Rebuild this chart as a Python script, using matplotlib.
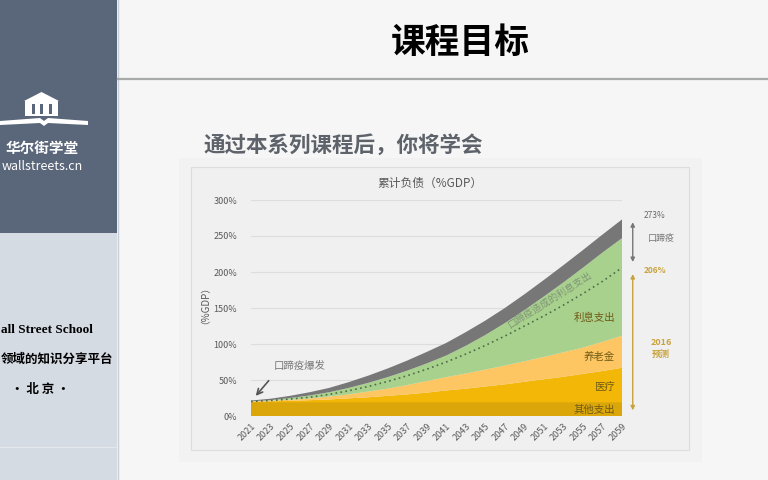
import matplotlib.pyplot as plt
import matplotlib.patches as patches

plt.rcParams['font.family'] = ['Noto Sans CJK SC', 'DejaVu Sans']

# Cumulative debt components (% of GDP)
years = [2021, 2023, 2025, 2027, 2029, 2031, 2033, 2035, 2037, 2039,
         2041, 2043, 2045, 2047, 2049, 2051, 2053, 2055, 2057, 2059]
other = [19, 19, 19, 19, 19, 19, 19, 19, 19, 19,
         19, 19, 19, 19, 19, 19, 19, 19, 19, 19]
medical = [0.5, 1.5, 2, 3, 4, 5.5, 7, 9, 11, 13.5,
           16.5, 19, 22, 25, 28.5, 32, 35.5, 39.5, 43.5, 48]
pension = [0.5, 1, 1.5, 2.5, 4, 5.5, 8, 10, 13, 16,
           18.5, 21, 23.5, 26, 28.5, 31, 34, 36.5, 40.5, 44.5]
interest = [0.5, 0.5, 2.5, 4, 6, 9, 12, 16, 20, 24.5,
            30, 38.5, 48, 59, 71, 84, 97, 111, 124, 135.5]
fmd = [1, 2, 3, 4.5, 6, 8, 10, 12, 14, 16,
       17.5, 19, 20, 21, 22, 23, 24, 24.5, 25, 26]
baseline = [20.2, 21.5, 23.5, 26, 30, 35, 41, 48, 56, 65,
            75, 86, 98, 111, 125, 139, 154, 170, 187, 206]
layer_names = ['其他支出', '医疗', '养老金', '利息支出', '口蹄疫']
layer_colors = ['#dba60a', '#f3b707', '#fec662', '#a9d18e', '#777777']
yticks = [0, 50, 100, 150, 200, 250, 300]

fig = plt.figure(figsize=(7.68, 4.8), dpi=100, facecolor='#f5f6f5')

# slide background drawn in pixel coordinates
bg = fig.add_axes([0, 0, 1, 1])
bg.set_xlim(0, 768)
bg.set_ylim(480, 0)
bg.axis('off')

bg.add_patch(patches.Rectangle((0, 0), 117, 233, facecolor='#5a6679', edgecolor='none'))
bg.add_patch(patches.Rectangle((0, 233), 117, 247, facecolor='#d5dbe3', edgecolor='none'))
bg.plot([117.5, 117.5], [0, 480], color='#c9cfd6', lw=1)
bg.plot([0, 117], [447, 447], color='#e4e8ed', lw=0.8)

# logo: building + open book
bg.add_patch(patches.Polygon([[24, 101], [41.5, 92], [59, 101]], closed=True, facecolor='white'))
bg.add_patch(patches.Rectangle((25, 101), 33, 15, facecolor='white'))
for cx in [33, 41.5, 50]:
    bg.add_patch(patches.Rectangle((cx - 1.5, 104), 3, 10, facecolor='#5a6679'))
bg.add_patch(patches.Polygon([[0, 121], [40, 118], [44, 121], [48, 118], [88, 121],
                              [88, 125], [48, 123], [44, 126], [40, 123], [0, 125]],
                             closed=True, facecolor='white'))
bg.text(42, 148, '华尔街学堂', ha='center', va='center', color='white',
        fontsize=10.5, fontweight='bold')
bg.text(42, 166, 'wallstreets.cn', ha='center', va='center', color='white', fontsize=9)

bg.text(1, 330, 'all Street School', ha='left', va='center', color='black',
        fontsize=9.5, fontweight='bold', family='Liberation Serif')
bg.text(1, 359, '领域的知识分享平台', ha='left', va='center', color='black',
        fontsize=9, fontweight='bold')
bg.text(40, 390, '• 北 京 •', ha='center', va='center', color='black',
        fontsize=9, fontweight='bold')

# title area
bg.text(460, 42, '课程目标', ha='center', va='center', color='black',
        fontsize=25, fontweight='bold')
bg.plot([118, 768], [79, 79], color='#a8aaa9', lw=1.6)
bg.text(203, 145, '通过本系列课程后，你将学会', ha='left', va='center', color='#5e636b',
        fontsize=15.5, fontweight='bold')

# chart panel
bg.add_patch(patches.Rectangle((179, 158), 523, 304, facecolor='#f1f2f1', edgecolor='none'))
bg.add_patch(patches.Rectangle((191, 167), 498, 283, facecolor='#eff0ef',
                               edgecolor='#dcdddc', lw=0.8))
bg.text(430, 183, '累计负债（%GDP）', ha='center', va='center', color='#595959', fontsize=8.5)
bg.text(200, 300, '（%GDP）', ha='center', va='center', color='#595959', fontsize=7,
        rotation=90)

# chart
ax = fig.add_axes([251 / 768, 64 / 480, 371 / 768, 216 / 480])
ax.set_facecolor('none')
ax.stackplot(years, other, medical, pension, interest, fmd,
             colors=layer_colors, linewidth=0, zorder=2)
ax.plot(years, baseline, color='#4f6b47', lw=1.2, linestyle=(0, (1, 2)), zorder=3)

ax.set_xlim(years[0], years[-1])
ax.set_ylim(0, 300)
ax.set_yticks(yticks)
ax.set_yticklabels([f'{v}%' for v in yticks])
ax.set_xticks(years)
ax.set_xticklabels([str(y) for y in years], rotation=45, ha='right', rotation_mode='anchor')
ax.tick_params(axis='y', length=0, pad=10, labelsize=6.5, labelcolor='#595959')
ax.tick_params(axis='x', length=0, pad=4, labelsize=6.5, labelcolor='#595959')
ax.grid(axis='y', color='#dcdddc', lw=0.8, zorder=0)
for s in ax.spines.values():
    s.set_visible(False)

# layer labels
label_color = '#6e5a14'
ax.text(2058.3, 136, layer_names[3], ha='right', va='center', color=label_color, fontsize=7.5)
ax.text(2058.3, 82, layer_names[2], ha='right', va='center', color=label_color, fontsize=7.5)
ax.text(2058.3, 40, layer_names[1], ha='right', va='center', color=label_color, fontsize=7.5)
ax.text(2058.3, 8, layer_names[0], ha='right', va='center', color=label_color, fontsize=7.5)
ax.text(2051.6, 161, '口蹄疫造成的利息支出', ha='center', va='center', color='#7f9576',
        fontsize=7, rotation=32, rotation_mode='anchor')

# outbreak marker
ax.annotate('', xy=(2021.3, 25), xytext=(2023.0, 52),
            arrowprops=dict(arrowstyle='->', color='#555555', lw=1.2))
ax.text(2023.3, 69, '口蹄疫爆发', ha='left', va='center', color='#777777', fontsize=7.5)

# right side brackets
ax.annotate('', xy=(2060.1, 273), xytext=(2060.1, 210), annotation_clip=False,
            arrowprops=dict(arrowstyle='<|-|>', color='#777777', lw=1.0, mutation_scale=6))
ax.annotate('', xy=(2060.1, 201), xytext=(2060.1, 4), annotation_clip=False,
            arrowprops=dict(arrowstyle='<|-|>', color='#c9a23a', lw=1.0, mutation_scale=6))
ax.text(2061.2, 279, '273%', ha='left', va='center', color='#6b6b6b', fontsize=6,
        clip_on=False)
ax.text(2061.6, 247, '口蹄疫', ha='left', va='center', color='#777777', fontsize=6.5,
        clip_on=False)
ax.text(2061.2, 202, '206%', ha='left', va='center', color='#c9a23a', fontsize=6,
        fontweight='bold', clip_on=False)
ax.text(2063.0, 94, '2016\n预测', ha='center', va='center', color='#c9a23a', fontsize=6.5,
        fontweight='bold', linespacing=1.3, clip_on=False)

fig.savefig('out.png', dpi=100, facecolor=fig.get_facecolor())
